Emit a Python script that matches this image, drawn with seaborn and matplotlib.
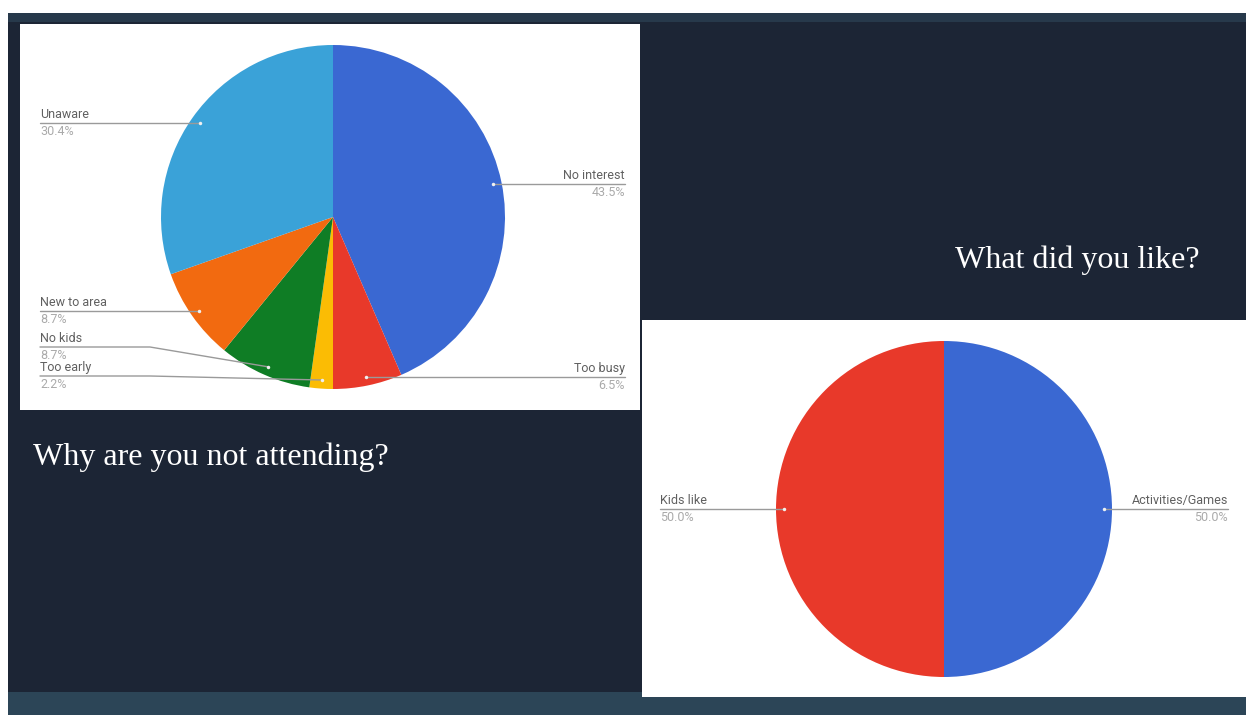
import numpy as np
import matplotlib
matplotlib.use("Agg")
import matplotlib.pyplot as plt
import matplotlib.patches as mpatches
import seaborn as sns

# data
reasons = ["No interest", "Too busy", "Too early", "No kids", "New to area", "Unaware"]
reason_pct = [43.5, 6.5, 2.2, 8.7, 8.7, 30.4]
likes = ["Activities/Games", "Kids like"]
like_pct = [50.0, 50.0]

reason_colors = ["#3a68d2", "#e8392a", "#fbbc04", "#0f7d25", "#f26a10", "#3aa2d8"]
like_colors = ["#3a68d2", "#e8392a"]

W, H = 1246, 715
sns.set_theme(style="white")

fig = plt.figure(figsize=(W / 100, H / 100), dpi=100)
ax = fig.add_axes([0, 0, 1, 1])
ax.set_xlim(0, W)
ax.set_ylim(0, H)
ax.set_aspect("equal")
ax.axis("off")


def px(x, y):
    # pixel coords (y down) -> axes coords (y up)
    return x, H - y


def rect(x0, y0, x1, y1, color, z=0):
    ax.add_patch(mpatches.Rectangle(px(x0, y1), x1 - x0, y1 - y0, color=color, zorder=z, lw=0))


# slide background
rect(0, 0, W, H, "white", 0)
rect(8, 13, W, H, "#1c2535", 1)
rect(8, 13, W, 22, "#27394b", 1)
rect(8, 692, W, H, "#2c4557", 1)
rect(20, 24, 640, 410, "white", 2)
rect(642, 320, W, 697, "white", 2)


def draw_pie(values, names, colors, cx, cy, r, label_x, label_y=None, elbow=110):
    ax.pie(values, colors=colors, startangle=90, counterclock=False,
           center=px(cx, cy), radius=r, wedgeprops=dict(lw=0, zorder=3), frame=True)
    total = sum(values)
    start = 0.0
    for i, (v, name) in enumerate(zip(values, names)):
        mid = (start + v / 2) / total * 2 * np.pi
        start += v
        dx, dy = np.sin(mid) * r * 0.95, np.cos(mid) * r * 0.95
        ax_x, ax_y = cx + dx, cy - dy
        right = dx > 0
        lx = label_x[1] if right else label_x[0]
        ly = ax_y if label_y is None or label_y[i] is None else label_y[i]
        ex = lx - elbow if right else lx + elbow
        xs = [lx, ex, ax_x]
        ys = [ly, ly, ax_y]
        ax.plot(*zip(*[px(a, b) for a, b in zip(xs, ys)]), color="#9a9a9a", lw=1, zorder=4)
        ax.plot(*px(ax_x, ax_y), "o", ms=2.5, color="#f0f0f0", mew=0, zorder=5)
        ha = "right" if right else "left"
        ax.text(*px(lx, ly - 2), name, ha=ha, va="bottom", fontsize=9,
                color="#606060", family="Roboto", zorder=5)
        ax.text(*px(lx, ly + 2), f"{v / total * 100:.1f}%", ha=ha, va="top", fontsize=9,
                color="#aaaaaa", family="Roboto", zorder=5)


draw_pie(reason_pct, reasons, reason_colors, 333, 217, 172, (40, 625),
         label_y=[None, None, 376, 347, None, None])
draw_pie(like_pct, likes, like_colors, 944, 509, 168, (660, 1228))

ax.set_xlim(0, W)
ax.set_ylim(0, H)
ax.axis("off")

ax.text(*px(33, 465), "Why are you not attending?", color="white", fontsize=23,
        family="Liberation Serif", ha="left", va="baseline", zorder=6)
ax.text(*px(955, 268), "What did you like?", color="white", fontsize=23,
        family="Liberation Serif", ha="left", va="baseline", zorder=6)

fig.savefig("out.png", dpi=100)
